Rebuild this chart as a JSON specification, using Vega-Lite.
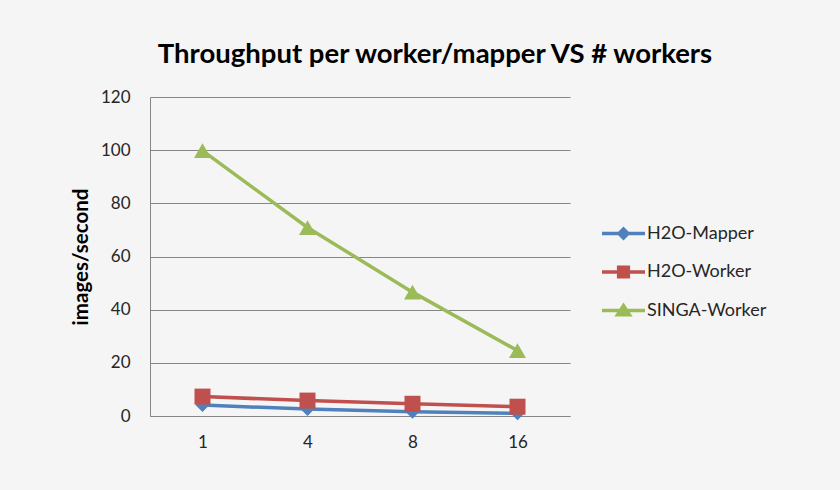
{
  "$schema": "https://vega.github.io/schema/vega-lite/v6.json",
  "width": 420,
  "height": 319,
  "autosize": {"type": "none"},
  "padding": {"left": 150, "top": 97, "right": 270, "bottom": 74},
  "background": "#f5f5f5",
  "title": {
    "text": "Throughput per worker/mapper VS # workers",
    "font": "Lato", "fontSize": 27.5, "fontWeight": "bold", "color": "#000000",
    "anchor": "middle", "frame": "group", "dx": 75, "offset": 20
  },
  "config": {
    "view": {"stroke": null},
    "font": "Lato",
    "legend": {
      "orient": "none", "legendX": 461, "legendY": 124,
      "labelFontSize": 18, "labelColor": "#262626", "labelOffset": 11,
      "rowPadding": 13.5, "symbolSize": 462
    }
  },
  "data": {
    "values": [
      {"workers": 1, "series": "H2O-Mapper", "throughput": 4.1},
      {"workers": 4, "series": "H2O-Mapper", "throughput": 2.6},
      {"workers": 8, "series": "H2O-Mapper", "throughput": 1.6},
      {"workers": 16, "series": "H2O-Mapper", "throughput": 1.0},
      {"workers": 1, "series": "H2O-Worker", "throughput": 7.3},
      {"workers": 4, "series": "H2O-Worker", "throughput": 5.8},
      {"workers": 8, "series": "H2O-Worker", "throughput": 4.6},
      {"workers": 16, "series": "H2O-Worker", "throughput": 3.5},
      {"workers": 1, "series": "SINGA-Worker", "throughput": 99.8},
      {"workers": 4, "series": "SINGA-Worker", "throughput": 70.9},
      {"workers": 8, "series": "SINGA-Worker", "throughput": 46.6},
      {"workers": 16, "series": "SINGA-Worker", "throughput": 24.6}
    ]
  },
  "encoding": {
    "x": {
      "field": "workers", "type": "ordinal",
      "scale": {"type": "point", "padding": 0.5},
      "axis": {
        "title": null, "labelAngle": 0, "ticks": false, "grid": false,
        "domainColor": "#868686", "labelFontSize": 17, "labelColor": "#262626",
        "labelPadding": 18
      }
    },
    "y": {
      "field": "throughput", "type": "quantitative",
      "scale": {"domain": [0, 120], "nice": false},
      "axis": {
        "title": "images/second", "values": [0, 20, 40, 60, 80, 100, 120],
        "ticks": false, "grid": true, "gridColor": "#868686",
        "domainColor": "#868686", "labelFontSize": 17, "labelColor": "#262626",
        "labelPadding": 20, "titleFontSize": 20.5, "titleFontWeight": "bold",
        "titleColor": "#000000", "titlePadding": 9
      }
    },
    "color": {
      "field": "series", "type": "nominal",
      "scale": {"domain": ["H2O-Mapper", "H2O-Worker", "SINGA-Worker"], "range": ["#4F81BD", "#C0504D", "#9BBB59"]},
      "legend": {
        "title": null,
        "encode": {
          "symbols": {
            "update": {
              "shape": {"signal": "datum.value === 'H2O-Mapper' ? 'M-2,0H2M0,-0.42L0.42,0L0,0.42L-0.42,0Z' : datum.value === 'H2O-Worker' ? 'M-2,0H2M-0.45,-0.45H0.45V0.45H-0.45Z' : 'M-2,0H2M0,-0.45L0.55,0.4H-0.55Z'"},
              "fill": {"signal": "scale('color', datum.value)"},
              "stroke": {"signal": "scale('color', datum.value)"},
              "strokeWidth": {"value": 3.5},
              "opacity": {"value": 1},
              "size": {"value": 462}
            }
          }
        }
      }
    }
  },
  "layer": [
    {
      "mark": {"type": "line", "strokeWidth": 3.5}
    },
    {
      "transform": [{"filter": "datum.series === 'H2O-Mapper'"}],
      "mark": {"type": "point", "filled": true, "opacity": 1, "shape": "diamond", "size": 196}
    },
    {
      "transform": [{"filter": "datum.series === 'H2O-Worker'"}],
      "mark": {"type": "point", "filled": true, "opacity": 1, "shape": "square", "size": 256}
    },
    {
      "transform": [{"filter": "datum.series === 'SINGA-Worker'"}],
      "mark": {"type": "point", "filled": true, "opacity": 1, "shape": "triangle-up", "size": 289}
    }
  ]
}
